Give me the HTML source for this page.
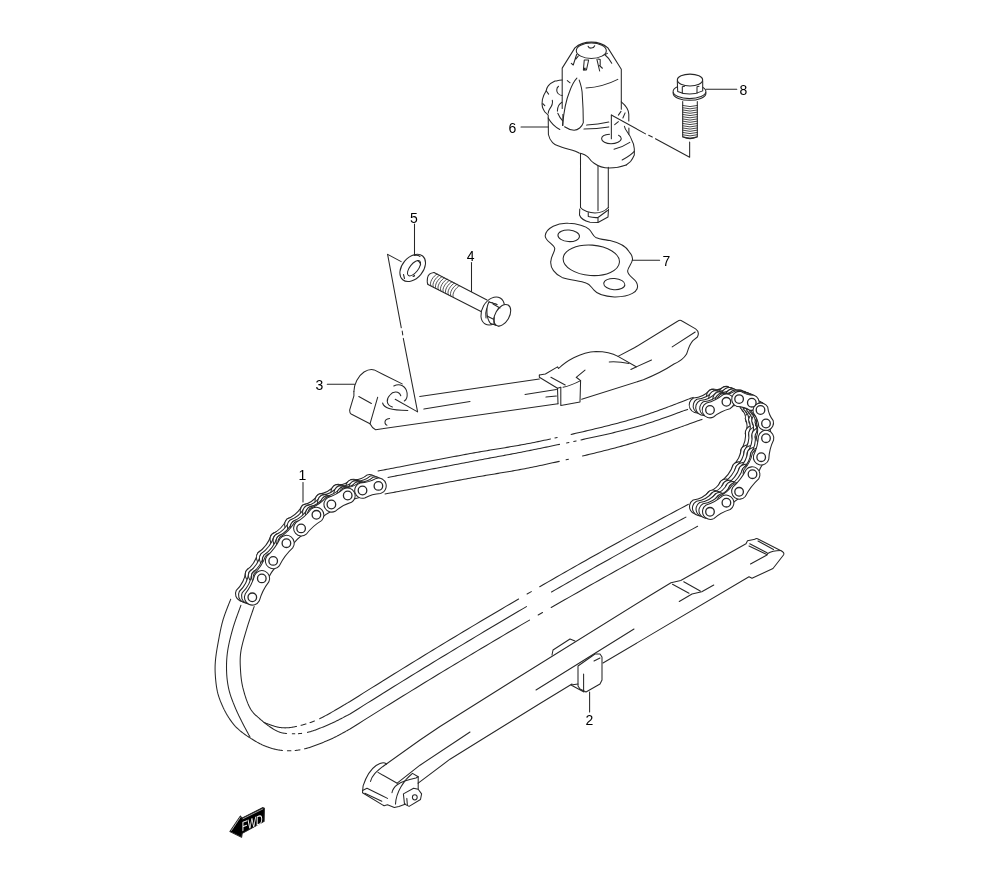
<!DOCTYPE html>
<html><head><meta charset="utf-8"><style>
html,body{margin:0;padding:0;background:#fff;}
svg{display:block;will-change:transform;}
text{font-family:"Liberation Sans",sans-serif;fill:#000;stroke:none;}
</style></head><body>
<svg width="1000" height="880" viewBox="0 0 1000 880">
<g fill="none" stroke="#262626" stroke-width="1.05" stroke-linecap="round" stroke-linejoin="round">
<path d="M562.2 108.4 L562.2 68.1 L574.9 47.9 C578 45 584 42.1 591.4 42.1 C598 42.1 604 44.5 607.9 47.9 L621.3 69.2 L621.3 109.2" />
<ellipse cx="591.3" cy="50.7" rx="15" ry="7.7" transform="rotate(0 591.3 50.7)" />
<path d="M588.1 46.25 C589 48.8 593.5 48.8 594.7 45.7" />
<path d="M576.6 54.5 L573.25 65 L571.3 63.3 M578.2 56.15 L576 59" />
<path d="M584.25 60 L588.65 60 L586.45 69.9 L583.4 69.9 Z" />
<path d="M583.2 67.8 L585.8 67.8 L585.5 70.2 L583 70.2 Z" fill="#262626" stroke="none"/>
<path d="M596.9 59.45 L599.65 71 M598 58.9 L600.2 59.5 L600.2 65.5 M599.5 65.5 L602.4 68.25" />
<path d="M605.15 55 Q609 58 611.75 63.3 M605.15 54.5 L607.4 53.4" />
<path d="M586 88 Q603 87 617.8 79.4" />
<path d="M562.9 114.5 L562.9 125.4" />
<path d="M562.5 125.4 C564 110 566 100 569.4 92 C571.5 86 574 81 576.9 78.1" />
<path d="M579.2 80.1 C581 85 582.3 92 582.3 95.5 C583 105 583.3 115 583.3 122.7 C582 127 578 130 574.1 130.2 C570 130 567 128.5 564.6 126.8" />
<path d="M567.3 80.6 L570.1 82.8" />
<path d="M562.2 80.1 C558 80.5 556 81 555 81.1 C552 82.5 549.5 84 548.2 85.9 C547 87.5 546.5 89 546.2 90.7 C544 94 543 97 542.4 99.5 C542 102 542 105 542.4 107 C543 109 544 110.5 544.8 111.8 C546 113 547 114 548.2 115.2 L548.4 134.5 C550 142 555 145 557.3 145.5 C565 149 575 150 579.1 153 C584 154 587 156 588.6 157.7 C591 161 592 162 594.1 163.2 C598 166 604 168 609.1 168 C615 168 621 167 626.2 165" />
<path d="M621.3 101.8 C624 104 628.8 109 628.8 114.3 L628.8 121 M628.9 128 L628.9 134.3" />
<path d="M624.4 126.2 C625 131 630 134 631.6 139.7 C633.5 143 634.3 146 634.3 148.7 L634.3 155 C633 158 632 159.5 630.7 161.3 Q628 163.5 626.2 165" />
<path d="M546.2 90.7 L548.6 94.1 M542.8 103.6 L544.8 105.7" />
<path d="M552.3 100.2 C553 103 552 106 549.6 109.1 C548.8 110.5 548.2 112 548.2 113.2" />
<path d="M558.5 86.2 C556 88 556.5 92 558 93.5 C559.5 95 561 95.5 562.2 95.5" />
<path d="M561.9 102.3 C559 104 557.4 106 557.4 111.1 M557.8 113.2 C559 116 561 119 562.5 120.7" />
<path d="M618.4 115.1 L621 111.4 M622.9 118 L625.1 112.9 M614.7 124.7 L618.4 121.7" />
<path d="M586.7 125.1 Q598 124.5 608.8 122.1" />
<path d="M584 129.1 Q597 129 608.8 126.9" />
<path d="M548.2 118 C551 123 555 127 559.8 129.5" />
<path d="M609.5 134.3 C604 134.6 601.6 136.5 601.6 138.8 C601.6 141.5 606 143.75 611 143.75 C616 143.75 621.3 141.5 621.25 138.5 Q621 136.2 618.55 135.2" />
<path d="M611.35 114.95 L611.35 138.8" />
<path d="M611.35 114.95 L645.55 133.85 M648.7 135.2 L652.3 137 M655.45 138.8 L689.65 157.25 L689.65 142" />
<path d="M614 149.2 Q623 147 629.8 142.4" />
<path d="M622.15 160 Q630 156 634.3 151.4" />
<path d="M580.5 153.6 L580.5 207.5 M598 165.9 L598 210.5 M608.3 167.3 L608.3 207.5" />
<path d="M580.5 207.5 C583 211 590 213 595 213 C600 213 605 211 608.3 207.5" />
<path d="M579.75 209 L579.5 215 C580.5 218 585 221 590 222.25 L598 222.5 L608 217 L608.5 209" />
<path d="M588.25 212.5 L588.25 216.5 C592 217.5 595 217.8 598 217.5 L607.5 210.5 M598 217.5 L598 222" />
<path d="M521 127 L548.4 127" />
<text x="508.5" y="132.5" font-size="14" >6</text>
<ellipse cx="689.5" cy="91.5" rx="16.4" ry="7.1" transform="rotate(0 689.5 91.5)" />
<path d="M673.1 92.5 L673.2 93.8 A16.4 7.1 0 0 0 705.9 93.8 L705.9 92.5" />
<path d="M677.3 80.9 L677.7 91.4 Q690 97 702.7 90.9 L702.7 80.9 Z" fill="#fff" stroke="none"/>
<ellipse cx="690" cy="80" rx="12.7" ry="5.9" transform="rotate(0 690 80)" />
<path d="M677.3 80.9 L677.7 91.4 Q690 97 702.7 90.9 L702.7 80.9" />
<path d="M682.3 86.8 L682.3 93.2 M697 86.8 L697 93.2 M682.3 86.8 L684.5 86.3 M697 86.8 L699 86.3" />
<path d="M682.7 101.4 L682.7 136.8 Q690 140.5 697.3 136.8 L697.3 101.4" />
<path d="M682.7 105.5 Q690 107.8 697.3 105.5" stroke-width="0.85"/>
<path d="M682.7 107.8 Q690 110.0 697.3 107.8" stroke-width="0.85"/>
<path d="M682.7 110.0 Q690 112.3 697.3 110.0" stroke-width="0.85"/>
<path d="M682.7 112.2 Q690 114.5 697.3 112.2" stroke-width="0.85"/>
<path d="M682.7 114.5 Q690 116.8 697.3 114.5" stroke-width="0.85"/>
<path d="M682.7 116.8 Q690 119.0 697.3 116.8" stroke-width="0.85"/>
<path d="M682.7 119.0 Q690 121.3 697.3 119.0" stroke-width="0.85"/>
<path d="M682.7 121.2 Q690 123.5 697.3 121.2" stroke-width="0.85"/>
<path d="M682.7 123.5 Q690 125.8 697.3 123.5" stroke-width="0.85"/>
<path d="M682.7 125.8 Q690 128.1 697.3 125.8" stroke-width="0.85"/>
<path d="M682.7 128.0 Q690 130.3 697.3 128.0" stroke-width="0.85"/>
<path d="M682.7 130.2 Q690 132.6 697.3 130.2" stroke-width="0.85"/>
<path d="M682.7 132.5 Q690 134.8 697.3 132.5" stroke-width="0.85"/>
<path d="M682.7 134.8 Q690 137.1 697.3 134.8" stroke-width="0.85"/>
<path d="M682.7 137.0 Q690 139.3 697.3 137.0" stroke-width="0.85"/>
<path d="M706.1 89.3 L736.8 89.3" />
<text x="739.5" y="95" font-size="14" >8</text>
<path d="M545.2 235.8 C546 228 558 222.5 568.4 223.3 C577 223.5 586 226 589.2 229.4 C592 232 593 236 595.6 237.4 C599 239 604 239.5 610 240.6 C618 242.5 626 246 629.2 251.8 C632 255 633 257 632.4 259.8 C632 264 628 267 627.6 271 C628 276 634 278 636.4 282.2 C639 287 637 291 632.4 293.4 C627 296.5 620 297 614.3 296.9 C605 296.5 597 294 594 290.2 C591 287 590 284 586 283 C580 281 570 280 562 277.4 C555 274 550 268 550.8 261.4 C551 256 554.8 252 554.8 248.6 C554 244 545 241 545.2 235.8 Z" />
<ellipse cx="591.3" cy="260.3" rx="28.2" ry="15.2" transform="rotate(4 591.3 260.3)" />
<ellipse cx="568.7" cy="235.8" rx="10.8" ry="5.8" transform="rotate(4 568.7 235.8)" />
<ellipse cx="614.3" cy="284.1" rx="10.6" ry="5.6" transform="rotate(4 614.3 284.1)" />
<path d="M632.4 260.3 L659.6 260.3" />
<text x="662.5" y="266.3" font-size="14" >7</text>
<text x="410" y="222.6" font-size="14" >5</text>
<path d="M414.5 224 L414.5 254.4" />
<ellipse cx="412.7" cy="267.9" rx="10.5" ry="15.5" transform="rotate(40 412.7 267.9)" />
<ellipse cx="414" cy="268.2" rx="4.2" ry="9.2" transform="rotate(38 414 268.2)" />
<path d="M417.5 260.5 C420 262 421 264.5 420.5 265" />
<path d="M413 276.5 Q415.5 276 414 275.2" />
<path d="M414 255.5 Q418 254.8 420 256.5" />
<path d="M403.5 274.5 L404.5 278.5" />
<path d="M387.6 254.4 L401.2 261.6" />
<path d="M387.6 254.4 L401.3 327.8 M402.2 331 L402.75 334.9 M403.3 338.4 L417.6 411.9 L395.2 399.3" />
<text x="466.8" y="260.8" font-size="14" >4</text>
<path d="M471.5 262.4 L471.5 291.5" />
<path d="M434 272.5 L487 300 M428 284.5 L481 311.5" />
<path d="M434 272.5 C430 273 428 275 427.5 278 C427 281 427 283 428 284.5" />
<path d="M437.0 274.1 C433.5 275.6 428.5 283.0 431.0 286.0" stroke-width="0.8"/>
<path d="M439.5 275.4 C436.0 276.9 431.0 284.3 433.5 287.3" stroke-width="0.8"/>
<path d="M442.0 276.7 C438.5 278.2 433.5 285.6 436.0 288.6" stroke-width="0.8"/>
<path d="M444.5 277.9 C441.0 279.4 436.0 286.8 438.5 289.8" stroke-width="0.8"/>
<path d="M447.0 279.2 C443.5 280.7 438.5 288.1 441.0 291.1" stroke-width="0.8"/>
<path d="M449.5 280.5 C446.0 282.0 441.0 289.4 443.5 292.4" stroke-width="0.8"/>
<path d="M452.0 281.8 C448.5 283.3 443.5 290.7 446.0 293.7" stroke-width="0.8"/>
<path d="M454.5 283.1 C451.0 284.6 446.0 291.9 448.5 294.9" stroke-width="0.8"/>
<path d="M457.0 284.4 C453.5 285.9 448.5 293.2 451.0 296.2" stroke-width="0.8"/>
<path d="M459.5 285.7 C456.0 287.2 451.0 294.5 453.5 297.5" stroke-width="0.8"/>
<ellipse cx="492.7" cy="311" rx="10.5" ry="15" transform="rotate(30 492.7 311)" fill="#fff"/>
<path d="M486 318 C485 312 487 306 492 302.5" />
<path d="M489 302 L497 304.5 M490.5 323.5 L499 326" fill="#fff"/>
<path d="M489 302 L497 304.5 L505 307 L510 318 L502 327 L499 326 L490.5 323.5 C486 318 486 307 489 302 Z" fill="#fff" stroke="none"/>
<path d="M489 302 L497 304.5 M490.5 323.5 L499 326" />
<path d="M489 302 C486 307 486 318 490.5 323.5" />
<ellipse cx="502.3" cy="315.2" rx="7" ry="11.7" transform="rotate(30 502.3 315.2)" fill="#fff"/>
<path d="M493 304 L500 308 M487 316 L494 319.5 M494 317.5 L494 324" />
<path d="M353.9 391.6 C354 384 358 376 364 372 C368 369.5 371 369 374.2 369.9 L402.2 383.9" />
<path d="M393.8 386 C400 383 406 386 407.1 393 C407.5 397 406 400 404.3 401" />
<path d="M400.8 395.8 C399 391 393 391 390 395 C386 399 386 405 392.4 407" />
<path d="M382.6 403 C384 408 390 410 407.8 410.5" />
<path d="M353.9 391.6 L353.9 395.8 L349.7 409.8 Q349.5 413 351.1 414 L370 423.8 Q372 428 375.6 429.7 L558 403.7" />
<path d="M358.8 396.5 L371.4 403.5 M377.7 397.2 L370 423.8" />
<path d="M389.6 418.5 Q384.5 419 385 423 Q385.5 425 387 425.2" />
<path d="M419.7 396.5 L539.35 379" />
<path d="M423.9 409.1 L470 401.6" />
<path d="M525 394.4 L556.4 389.4 M546 397.1 L556.4 396" />
<path d="M539.35 375.1 L545.4 374 L557.5 366.85 L558.6 368.5 C565 362 580 352 596 351.45 C605 351.5 612 353 618 356.4 L634.4 347.8 L677.6 321.25 Q680 319.5 682 321 L695.6 328.9 Q700 332 697.4 337 L692.9 340.6 C689 345 688 350 686.6 354.1 C683 360 679 362 674 364 C665 370 655 375 643.4 379.75 L581.7 399.3" />
<path d="M618 356.4 L636.2 366.7" />
<path d="M609.2 361.9 C615 361.5 622 362 629 363.5" />
<path d="M630.8 369.4 L651.5 360 M672.2 346.9 L695.2 332" />
<path d="M539.35 375.1 L539.35 377.3 L557.5 388.3 L560.8 387.2" />
<path d="M557.5 388.3 L558 403.7" />
<path d="M560.8 387.2 L560.8 405.4 L580 402 L580.6 380.6 Q578 378.5 576.2 377.3 L585 370.15" />
<path d="M563 387.2 C570 386 576 383 580.6 380.6" />
<path d="M550.9 377.3 L565.2 385" />
<path d="M327.3 384.2 L354.6 384.2" />
<text x="315.5" y="390" font-size="14" >3</text>
<path d="M386.4 764 L420 740 L440 726.5 L514 680 L650 595.5 L671 582.75 L680.75 580.5 L746 543.75 L747.5 540.75 L755 539.25 Q756 538.2 757.5 538.8 L780.5 550.5 Q785 552.5 783.5 555 L773 568.5 L752 578.25 L749 576.75 L603 663" />
<path d="M572 684 L540 703.5 L481 740 L450 759.2 L418.2 783.1" />
<path d="M397.2 783.2 L420 765.2 L458 740 L470 732" />
<path d="M536 690 L634 629" />
<path d="M672.5 584.25 L689 593.25 M683.75 581.75 L700.25 591 M679.25 601.5 L692 594 L701.75 591.75 L713.75 585" />
<path d="M749.75 543.75 L767 552.75 M749 546 L766.25 554.25 M767.75 553.5 Q772 550.5 781 550.5 M758 541 L773.5 549.5 M750.5 564 L767 555 L767.75 553.5" />
<path d="M578 666 L595 654 L600 654 L602 657 L602 680 L600 684 L586 692 L580 689 L578 686 Z" fill="#fff"/>
<path d="M583.6 674 L583.6 691 M594 661 L600 658 M571 685 L578 684 M571 685 L584 692" />
<path d="M552 655 L553 650 L570 639 L575 641" />
<path d="M589.6 692 L589.6 712" />
<text x="585.5" y="724.5" font-size="14" >2</text>
<path d="M386.4 764 Q383 761 376.1 765.5 C371 769 366 777 363.1 785.9 L362.5 792.7 L384.1 805.8 L387.5 804.7 L394.3 807.5 L398.9 806.4 L405.7 804.1" />
<path d="M403.4 793.9 L413.6 788.2 L418.2 789.3 L421.6 793.9 L420.5 799.5 L409.1 806.4 L404.5 804.1 Z" />
<ellipse cx="414.8" cy="797.3" rx="2.4" ry="2.6" transform="rotate(0 414.8 797.3)" />
<path d="M406.8 798.4 L407.4 805.2" />
<path d="M418.2 783.1 L418.2 789" />
<path d="M378 772.4 L397.2 783.2" />
<path d="M392 792.7 C393 787 397 782 415.9 778 L418.2 776.8" />
<path d="M395.5 804.1 C396 792 404 780 412.5 773.4 L418.2 776.8 L418.2 783" />
<path d="M370.5 781.4 C372 776 375 772 386.4 764" />
<path d="M362.5 790.5 L367 788.2 L387.5 798.4 M364.8 793.3 L381.8 801.3" />
<path d="M378.00 471.00 L379.21 470.77 L380.55 470.52 L382.01 470.24 L383.57 469.94 L385.25 469.62 L387.03 469.29 L388.90 468.93 L390.86 468.55 L392.92 468.16 L395.05 467.76 L397.25 467.34 L399.53 466.90 L401.87 466.46 L404.27 466.00 L406.73 465.53 L409.23 465.05 L411.78 464.57 L414.36 464.08 L416.98 463.58 L419.62 463.08 L422.29 462.57 L424.97 462.06 L427.67 461.55 L430.37 461.04 L433.07 460.52 L435.76 460.01 L438.45 459.51 L441.12 459.00 L443.77 458.50 L446.39 458.01 L448.98 457.52 L451.54 457.04 L454.05 456.57 L456.51 456.11 L458.92 455.65 L461.28 455.22 L463.57 454.79 L465.79 454.38 L467.93 453.98 L470.00 453.60 L472.01 453.23 L473.97 452.88 L475.90 452.53 L477.80 452.20 L479.67 451.87 L481.50 451.56 L483.31 451.25 L485.09 450.94 L486.84 450.65 L488.58 450.36 L490.29 450.08 L491.99 449.80 L493.67 449.52 L495.33 449.25 L496.98 448.98 L498.62 448.71 L500.26 448.45 L501.88 448.18 L503.51 447.92 L505.12 447.65 L506.74 447.38 L508.36 447.11 L509.99 446.84 L511.62 446.57 L513.25 446.29 L514.90 446.01 L516.55 445.72 L518.22 445.42 L519.91 445.12 L521.61 444.82 L523.33 444.50 L525.07 444.18 L526.84 443.84 L528.63 443.50 L530.44 443.15 L532.29 442.78 L534.17 442.41 L536.07 442.02 L538.02 441.62 L540.00 441.20 L542.02 440.77 L544.08 440.33 L546.18 439.89 L548.31 439.43 L550.48 438.96"/>
<path d="M554.90 438.00 L557.15 437.51"/>
<path d="M571.09 434.42 L573.46 433.88 L575.85 433.34 L578.24 432.79 L580.63 432.24 L583.03 431.68 L585.42 431.13 L587.82 430.56 L590.21 430.00 L592.59 429.43 L594.97 428.86 L597.33 428.29 L599.69 427.72 L602.02 427.15 L604.34 426.58 L606.64 426.00 L608.92 425.43 L611.17 424.86 L613.40 424.29 L615.59 423.72 L617.76 423.15 L619.90 422.58 L622.00 422.02 L624.06 421.46 L626.08 420.90 L628.06 420.35 L630.00 419.80 L631.92 419.25 L633.84 418.68 L635.76 418.09 L637.69 417.50 L639.61 416.89 L641.54 416.28 L643.45 415.66 L645.37 415.03 L647.27 414.39 L649.17 413.75 L651.05 413.10 L652.92 412.45 L654.78 411.80 L656.62 411.14 L658.44 410.49 L660.24 409.84 L662.02 409.19 L663.78 408.54 L665.52 407.90 L667.23 407.26 L668.90 406.63 L670.55 406.01 L672.17 405.40 L673.76 404.80 L675.31 404.20 L676.82 403.62 L678.29 403.06 L679.73 402.51 L681.12 401.97 L682.47 401.45 L683.78 400.95 L685.03 400.46 L686.24 400.00 L687.40 399.56 L688.51 399.13 L689.56 398.74 L690.56 398.36 L691.50 398.02 L692.38 397.69 L693.20 397.40"/>
<path d="M388.00 477.40 L389.08 477.19 L390.26 476.97 L391.55 476.72 L392.93 476.46 L394.41 476.18 L395.97 475.88 L397.62 475.57 L399.34 475.24 L401.14 474.90 L403.02 474.55 L404.95 474.18 L406.95 473.80 L409.01 473.41 L411.11 473.01 L413.27 472.60 L415.47 472.18 L417.71 471.75 L419.99 471.32 L422.29 470.88 L424.62 470.44 L426.98 469.99 L429.35 469.54 L431.73 469.09 L434.13 468.63 L436.53 468.17 L438.92 467.72 L441.32 467.26 L443.70 466.81 L446.07 466.36 L448.42 465.91 L450.75 465.47 L453.06 465.03 L455.33 464.60 L457.57 464.17 L459.76 463.75 L461.92 463.34 L464.02 462.94 L466.07 462.55 L468.07 462.17 L470.00 461.80 L471.89 461.44 L473.75 461.09 L475.58 460.74 L477.40 460.40 L479.19 460.06 L480.96 459.73 L482.71 459.40 L484.45 459.08 L486.17 458.76 L487.88 458.45 L489.57 458.13 L491.25 457.82 L492.93 457.51 L494.59 457.20 L496.25 456.90 L497.90 456.59 L499.55 456.28 L501.20 455.98 L502.85 455.67 L504.50 455.36 L506.15 455.05 L507.81 454.74 L509.47 454.43 L511.14 454.12 L512.81 453.80 L514.50 453.48 L516.20 453.15 L517.91 452.82 L519.63 452.49 L521.38 452.15 L523.13 451.80 L524.91 451.45 L526.71 451.10 L528.53 450.74 L530.38 450.37 L532.24 449.99 L534.14 449.60 L536.06 449.21 L538.02 448.81 L540.00 448.40 L542.02 447.98 L544.09 447.55 L546.19 447.12 L548.34 446.68 L550.51 446.23 L552.73 445.77 L554.97 445.31 L557.24 444.84 L559.53 444.37"/>
<path d="M566.55 442.91 L568.92 442.42"/>
<path d="M573.71 441.42 L576.12 440.91"/>
<path d="M580.94 439.89 L583.36 439.38 L585.77 438.86 L588.19 438.34 L590.59 437.83 L592.99 437.31 L595.37 436.78 L597.74 436.26 L600.10 435.74 L602.44 435.22 L604.75 434.70 L607.04 434.18 L609.31 433.66 L611.55 433.14 L613.75 432.62 L615.93 432.11 L618.06 431.60 L620.16 431.09 L622.22 430.58 L624.24 430.08 L626.21 429.58 L628.13 429.09 L630.00 428.60 L631.84 428.11 L633.68 427.60 L635.51 427.09 L637.33 426.57 L639.14 426.04 L640.95 425.50 L642.74 424.96 L644.52 424.41 L646.28 423.86 L648.03 423.31 L649.76 422.75 L651.48 422.19 L653.17 421.63 L654.85 421.07 L656.50 420.51 L658.14 419.96 L659.75 419.40 L661.33 418.85 L662.89 418.30 L664.43 417.76 L665.93 417.23 L667.40 416.70 L668.85 416.18 L670.26 415.67 L671.64 415.17 L672.99 414.68 L674.30 414.20 L675.57 413.73 L676.81 413.28 L678.01 412.84 L679.17 412.41 L680.28 412.00 L681.36 411.61 L682.39 411.23 L683.38 410.88 L684.32 410.54 L685.21 410.22 L686.06 409.93 L686.85 409.65 L687.60 409.40"/>
<path d="M385.00 494.00 L386.12 493.79 L387.35 493.56 L388.69 493.31 L390.13 493.05 L391.66 492.76 L393.29 492.46 L395.00 492.14 L396.80 491.80 L398.68 491.45 L400.62 491.09 L402.64 490.71 L404.72 490.32 L406.87 489.92 L409.06 489.51 L411.31 489.09 L413.60 488.66 L415.93 488.23 L418.30 487.79 L420.70 487.34 L423.12 486.89 L425.57 486.43 L428.04 485.97 L430.51 485.51 L433.00 485.05 L435.49 484.58 L437.98 484.12 L440.46 483.66 L442.92 483.20 L445.38 482.75 L447.81 482.30 L450.22 481.85 L452.60 481.41 L454.94 480.97 L457.25 480.55 L459.51 480.13 L461.73 479.72 L463.89 479.32 L465.99 478.94 L468.03 478.56 L470.00 478.20 L471.92 477.85 L473.81 477.51 L475.68 477.18 L477.52 476.85 L479.33 476.53 L481.12 476.22 L482.89 475.92 L484.64 475.62 L486.37 475.33 L488.09 475.04 L489.79 474.76 L491.47 474.47 L493.15 474.20 L494.81 473.92 L496.47 473.64 L498.12 473.37 L499.77 473.10 L501.41 472.82 L503.05 472.55 L504.69 472.27 L506.33 472.00 L507.97 471.72 L509.62 471.44 L511.28 471.15 L512.94 470.86 L514.62 470.56 L516.30 470.26 L518.00 469.96 L519.72 469.64 L521.45 469.32 L523.19 468.99 L524.96 468.66 L526.75 468.31 L528.56 467.96 L530.40 467.59 L532.26 467.22 L534.15 466.83 L536.07 466.43 L538.02 466.02 L540.00 465.60 L542.02 465.17 L544.07 464.72 L546.16 464.27 L548.27 463.80 L550.42 463.33 L552.59 462.85 L554.79 462.37 L557.01 461.87 L559.25 461.37"/>
<path d="M566.10 459.82 L568.41 459.29"/>
<path d="M582.51 456.00 L584.88 455.44 L587.24 454.87 L589.61 454.30 L591.98 453.73 L594.34 453.15 L596.69 452.57 L599.03 451.99 L601.37 451.41 L603.69 450.82 L606.00 450.24 L608.30 449.65 L610.57 449.06 L612.83 448.47 L615.07 447.89 L617.28 447.30 L619.47 446.71 L621.64 446.13 L623.78 445.54 L625.88 444.96 L627.96 444.38 L630.00 443.80 L632.04 443.21 L634.09 442.61 L636.16 441.99 L638.25 441.36 L640.35 440.71 L642.46 440.05 L644.58 439.38 L646.70 438.70 L648.83 438.01 L650.95 437.31 L653.07 436.61 L655.19 435.90 L657.30 435.19 L659.40 434.48 L661.48 433.77 L663.55 433.06 L665.60 432.35 L667.63 431.64 L669.64 430.94 L671.62 430.24 L673.58 429.55 L675.50 428.86 L677.39 428.19 L679.25 427.53 L681.06 426.88 L682.84 426.24 L684.57 425.62 L686.26 425.01 L687.90 424.42 L689.48 423.85 L691.02 423.29 L692.50 422.76 L693.92 422.25 L695.27 421.76 L696.57 421.30 L697.80 420.86 L698.96 420.45 L700.05 420.07 L701.06 419.72 L702.00 419.40"/>
<path d="M264.00 722.50 L264.21 722.57 L264.44 722.64 L264.69 722.73 L264.95 722.82 L265.23 722.93 L265.53 723.04 L265.85 723.15 L266.18 723.28 L266.52 723.40 L266.88 723.54 L267.24 723.68 L267.62 723.82 L268.02 723.97 L268.42 724.12 L268.83 724.27 L269.25 724.43 L269.68 724.59 L270.11 724.74 L270.55 724.90 L271.00 725.06 L271.45 725.22 L271.91 725.38 L272.37 725.54 L272.83 725.69 L273.30 725.84 L273.76 725.99 L274.23 726.14 L274.70 726.28 L275.16 726.42 L275.62 726.55 L276.09 726.68 L276.54 726.80 L277.00 726.92 L277.45 727.03 L277.89 727.13 L278.33 727.22 L278.76 727.30 L279.18 727.38 L279.60 727.44 L280.00 727.50 L280.40 727.55 L280.79 727.59 L281.18 727.63 L281.57 727.67 L281.95 727.71 L282.33 727.74 L282.71 727.76 L283.09 727.79 L283.46 727.81 L283.84 727.82 L284.21 727.84 L284.58 727.85 L284.95 727.85 L285.32 727.85 L285.69 727.85 L286.06 727.84 L286.44 727.83 L286.81 727.82 L287.19 727.80 L287.56 727.78 L287.94 727.76 L288.32 727.73 L288.71 727.69 L289.10 727.66 L289.49 727.61 L289.88 727.57 L290.28 727.52 L290.69 727.47 L291.09 727.41 L291.51 727.35 L291.93 727.28 L292.35 727.21 L292.78 727.14 L293.22 727.06 L293.67 726.98 L294.12 726.89 L294.58 726.80 L295.04 726.70 L295.52 726.60 L296.00 726.50 L296.49 726.39"/>
<path d="M301.07 725.32 L301.60 725.18 L302.13 725.04 L302.67 724.90 L303.21 724.75 L303.76 724.60 L304.31 724.45 L304.87 724.29 L305.43 724.12 L305.99 723.96"/>
<path d="M310.08 722.62 L310.68 722.41 L311.29 722.19 L311.90 721.96 L312.52 721.73 L313.15 721.49 L313.78 721.24 L314.41 720.99"/>
<path d="M319.69 718.68 L320.41 718.33 L321.15 717.96 L321.92 717.58 L322.70 717.17 L323.51 716.75 L324.34 716.31 L325.18 715.86 L326.04 715.39 L326.91 714.92 L327.80 714.43 L328.69 713.93 L329.59 713.43 L330.49 712.92 L331.40 712.40 L332.31 711.88 L333.22 711.36 L334.13 710.83 L335.04 710.31 L335.94 709.78 L336.83 709.26 L337.71 708.74 L338.59 708.23 L339.45 707.72 L340.29 707.22 L341.12 706.73 L341.94 706.25 L342.73 705.78 L343.50 705.32 L344.24 704.88 L344.96 704.45 L345.66 704.04 L346.32 703.65 L346.95 703.27 L347.55 702.92 L348.12 702.59 L348.65 702.28 L349.14 701.99 L349.59 701.73 L350.00 701.50 L354.41 698.72 L358.82 695.95 L363.22 693.18 L367.61 690.42 L372.01 687.67 L376.39 684.93 L380.78 682.20 L385.15 679.48 L389.53 676.76 L393.90 674.05 L398.26 671.35 L402.62 668.66 L406.98 665.97 L411.33 663.29 L415.67 660.62 L420.02 657.96 L424.35 655.31 L428.69 652.67 L433.01 650.03 L437.34 647.40 L441.66 644.78 L445.97 642.17 L450.28 639.56 L454.59 636.96 L458.89 634.38 L463.18 631.79 L467.47 629.22 L471.76 626.66 L476.04 624.10 L480.32 621.55 L484.60 619.01 L488.86 616.48 L493.13 613.95 L497.39 611.43 L501.64 608.93 L505.89 606.42 L510.14 603.93 L514.38 601.45 L518.62 598.97"/>
<path d="M527.08 594.04 L531.30 591.59"/>
<path d="M539.73 586.70 L543.94 584.28 L548.15 581.85 L552.35 579.44 L556.54 577.04 L560.74 574.64 L564.92 572.25 L569.10 569.87 L573.28 567.50 L577.45 565.13 L581.62 562.77 L585.79 560.42 L589.95 558.08 L594.10 555.75 L598.25 553.43 L602.40 551.11 L606.54 548.80 L610.67 546.50 L614.81 544.21 L618.93 541.92 L623.06 539.64 L627.17 537.38 L631.29 535.11 L635.40 532.86 L639.50 530.62 L643.60 528.38 L647.70 526.15 L651.79 523.93 L655.87 521.72 L659.96 519.51 L664.03 517.31 L668.11 515.12 L672.17 512.94 L676.24 510.77 L680.30 508.61 L684.35 506.45 L688.40 504.30"/>
<path d="M254.20 606.40 L254.11 606.68 L254.00 606.99 L253.89 607.32 L253.77 607.68 L253.64 608.05 L253.50 608.45 L253.35 608.87 L253.20 609.31 L253.04 609.77 L252.88 610.24 L252.71 610.73 L252.53 611.24 L252.35 611.76 L252.17 612.30 L251.98 612.84 L251.79 613.40 L251.59 613.97 L251.39 614.56 L251.19 615.15 L250.98 615.74 L250.77 616.35 L250.57 616.96 L250.36 617.58 L250.15 618.20 L249.94 618.83 L249.73 619.45 L249.52 620.08 L249.31 620.71 L249.10 621.34 L248.89 621.97 L248.69 622.60 L248.48 623.23 L248.29 623.85 L248.09 624.46 L247.90 625.07 L247.71 625.67 L247.52 626.27 L247.34 626.86 L247.17 627.43 L247.00 628.00 L246.83 628.56 L246.66 629.13 L246.49 629.70 L246.32 630.28 L246.15 630.86 L245.97 631.45 L245.79 632.03 L245.62 632.62 L245.44 633.22 L245.26 633.81 L245.09 634.41 L244.91 635.01 L244.73 635.61 L244.56 636.21 L244.38 636.82 L244.21 637.42 L244.03 638.02 L243.86 638.63 L243.69 639.23 L243.53 639.83 L243.36 640.43 L243.20 641.03 L243.03 641.63 L242.88 642.23 L242.72 642.82 L242.57 643.42 L242.42 644.01 L242.28 644.59 L242.14 645.18 L242.00 645.76 L241.87 646.33 L241.74 646.91 L241.61 647.47 L241.50 648.04 L241.38 648.60 L241.27 649.15 L241.17 649.70 L241.08 650.24 L240.98 650.77 L240.90 651.30 L240.82 651.82 L240.75 652.34 L240.68 652.85 L240.62 653.36 L240.56 653.86 L240.50 654.36 L240.45 654.85 L240.41 655.34 L240.37 655.83 L240.33 656.31 L240.30 656.79 L240.27 657.26 L240.24 657.74 L240.22 658.21 L240.21 658.67 L240.19 659.14 L240.18 659.60 L240.17 660.06 L240.17 660.51 L240.16 660.97 L240.16 661.42 L240.17 661.88 L240.17 662.33 L240.18 662.78 L240.19 663.23 L240.20 663.68 L240.21 664.12 L240.23 664.57 L240.24 665.02 L240.26 665.47 L240.28 665.92 L240.30 666.37 L240.33 666.82 L240.35 667.27 L240.37 667.72 L240.40 668.17 L240.42 668.63 L240.45 669.08 L240.47 669.54 L240.50 670.00 L240.53 670.46 L240.55 670.92 L240.58 671.38 L240.61 671.83 L240.64 672.29 L240.67 672.74 L240.71 673.19 L240.74 673.65 L240.78 674.10 L240.82 674.55 L240.85 675.00 L240.90 675.45 L240.94 675.89 L240.98 676.34 L241.03 676.79 L241.08 677.24 L241.13 677.69 L241.18 678.13 L241.23 678.58 L241.29 679.03 L241.35 679.48 L241.41 679.93 L241.47 680.38 L241.54 680.83 L241.61 681.28 L241.68 681.73 L241.75 682.18 L241.83 682.64 L241.91 683.09 L241.99 683.55 L242.08 684.01 L242.17 684.47 L242.26 684.93 L242.35 685.39 L242.45 685.85 L242.55 686.32 L242.66 686.78 L242.77 687.25 L242.88 687.73 L243.00 688.20 L243.12 688.68 L243.24 689.16 L243.37 689.66 L243.50 690.15 L243.64 690.66 L243.78 691.17 L243.92 691.68 L244.06 692.20 L244.21 692.72 L244.36 693.24 L244.52 693.77 L244.67 694.30 L244.83 694.83 L245.00 695.36 L245.16 695.89 L245.33 696.43 L245.50 696.96 L245.68 697.49 L245.85 698.02 L246.03 698.55 L246.21 699.08 L246.40 699.60 L246.58 700.12 L246.77 700.64 L246.96 701.15 L247.15 701.66 L247.34 702.16 L247.54 702.66 L247.73 703.15 L247.93 703.63 L248.13 704.11 L248.34 704.58 L248.54 705.04 L248.74 705.49 L248.95 705.94 L249.16 706.37 L249.37 706.79 L249.58 707.21 L249.79 707.61 L250.00 708.00 L250.21 708.38 L250.43 708.75 L250.64 709.11 L250.86 709.46 L251.07 709.80 L251.29 710.13 L251.51 710.45 L251.73 710.76 L251.95 711.07 L252.17 711.37 L252.40 711.66 L252.62 711.95 L252.85 712.23 L253.08 712.50 L253.31 712.77 L253.54 713.03 L253.78 713.29 L254.02 713.55 L254.26 713.80 L254.50 714.05 L254.75 714.30 L254.99 714.54 L255.24 714.78 L255.50 715.02 L255.75 715.26 L256.01 715.50 L256.27 715.74 L256.54 715.98 L256.81 716.22 L257.08 716.46 L257.35 716.70 L257.63 716.94 L257.91 717.19 L258.20 717.43 L258.49 717.69 L258.78 717.94 L259.08 718.20 L259.38 718.46 L259.69 718.73 L260.00 719.00 L260.32 719.28 L260.64 719.56 L260.97 719.84 L261.31 720.13 L261.66 720.43 L262.01 720.72 L262.37 721.02 L262.73 721.32 L263.10 721.62 L263.47 721.93 L263.85 722.23 L264.23 722.54 L264.61 722.84 L265.00 723.15 L265.39 723.45 L265.78 723.76 L266.18 724.06 L266.58 724.37 L266.98 724.67 L267.38 724.97 L267.78 725.27 L268.18 725.56 L268.58 725.85 L268.98 726.14 L269.38 726.42 L269.77 726.70 L270.17 726.98 L270.56 727.25 L270.95 727.52 L271.34 727.78 L271.73 728.03 L272.11 728.28 L272.49 728.52 L272.86 728.76 L273.23 728.98 L273.60 729.20 L273.96 729.42 L274.31 729.62 L274.66 729.81 L275.00 730.00 L275.33 730.18 L275.66 730.35 L275.98 730.51 L276.29 730.67 L276.59 730.83 L276.89 730.97 L277.18 731.12 L277.46 731.25 L277.75 731.38 L278.02 731.51 L278.30 731.63 L278.57 731.74 L278.84 731.85 L279.10 731.96 L279.37 732.06 L279.63 732.16 L279.90 732.25 L280.16 732.34 L280.42 732.42 L280.69 732.50 L280.95 732.58 L281.22 732.65 L281.49 732.72 L281.77 732.78 L282.05 732.85 L282.33 732.91 L282.61 732.96 L282.91 733.02 L283.20 733.07 L283.51 733.12 L283.82 733.16 L284.14 733.21 L284.46 733.25 L284.80 733.29 L285.14 733.33 L285.49 733.37 L285.85 733.40 L286.22 733.44 L286.61 733.47"/>
<path d="M292.32 733.77 L292.80 733.78 L293.29 733.78 L293.78 733.78 L294.28 733.78 L294.78 733.78"/>
<path d="M298.40 733.66 L298.93 733.62 L299.46 733.58 L299.99 733.54 L300.53 733.49 L301.06 733.44 L301.60 733.38"/>
<path d="M307.54 732.38 L308.09 732.25 L308.64 732.11 L309.19 731.96 L309.75 731.81 L310.32 731.65 L310.88 731.48 L311.46 731.30 L312.03 731.12 L312.61 730.94 L313.19 730.75 L313.77 730.55 L314.36 730.35 L314.95 730.14 L315.54 729.93 L316.13 729.71 L316.72 729.49 L317.31 729.27 L317.91 729.04 L318.50 728.81 L319.09 728.58 L319.69 728.34 L320.28 728.11 L320.87 727.87 L321.46 727.63 L322.05 727.38 L322.64 727.14 L323.23 726.90 L323.81 726.65 L324.39 726.41 L324.97 726.16 L325.54 725.92 L326.12 725.67 L326.68 725.43 L327.25 725.19 L327.81 724.94 L328.36 724.71 L328.91 724.47 L329.46 724.23 L330.00 724.00 L330.54 723.76 L331.09 723.52 L331.65 723.27 L332.21 723.02 L332.78 722.75 L333.35 722.49 L333.93 722.21 L334.51 721.94 L335.10 721.66 L335.68 721.37 L336.27 721.08 L336.85 720.80 L337.44 720.50 L338.02 720.21 L338.60 719.92 L339.18 719.63 L339.75 719.34 L340.32 719.05 L340.88 718.76 L341.44 718.47 L341.99 718.18 L342.53 717.90 L343.06 717.63 L343.58 717.35 L344.10 717.08 L344.60 716.82 L345.09 716.56 L345.56 716.31 L346.03 716.07 L346.48 715.83 L346.91 715.60 L347.33 715.38 L347.73 715.17 L348.11 714.97 L348.48 714.78 L348.82 714.60 L349.15 714.43 L349.45 714.28 L349.74 714.13 L350.00 714.00 L354.41 711.22 L358.81 708.45 L363.21 705.68 L367.61 702.92 L372.00 700.18 L376.38 697.44 L380.76 694.70 L385.13 691.98 L389.50 689.26 L393.86 686.55 L398.21 683.85 L402.57 681.16 L406.91 678.48 L411.25 675.80 L415.59 673.14 L419.92 670.48 L424.24 667.82 L428.56 665.18 L432.87 662.55 L437.18 659.92 L441.48 657.30 L445.78 654.69 L450.07 652.09 L454.36 649.49 L458.64 646.90 L462.92 644.33 L467.19 641.76 L471.46 639.19 L475.72 636.64 L479.97 634.09 L484.22 631.55 L488.46 629.02 L492.70 626.50 L496.94 623.99 L501.16 621.48 L505.39 618.98 L509.60 616.50 L513.82 614.01 L518.02 611.54 L522.23 609.08 L526.42 606.62"/>
<path d="M551.49 592.04 L555.64 589.64 L559.80 587.25 L563.95 584.87 L568.09 582.49 L572.23 580.12 L576.36 577.76 L580.48 575.41 L584.61 573.07 L588.72 570.73 L592.83 568.40 L596.94 566.08 L601.04 563.77 L605.13 561.47 L609.22 559.17 L613.30 556.89 L617.38 554.61 L621.46 552.34 L625.52 550.07 L629.59 547.82 L633.64 545.57 L637.70 543.33 L641.74 541.10 L645.78 538.88 L649.82 536.67 L653.85 534.46 L657.87 532.26 L661.89 530.07 L665.91 527.89 L669.92 525.71 L673.92 523.55 L677.92 521.39 L681.91 519.24 L685.90 517.10"/>
<path d="M230.70 599.20 L230.60 599.47 L230.49 599.77 L230.36 600.09 L230.23 600.44 L230.08 600.80 L229.93 601.19 L229.77 601.60 L229.60 602.02 L229.43 602.47 L229.24 602.93 L229.05 603.41 L228.86 603.90 L228.66 604.41 L228.45 604.93 L228.24 605.46 L228.03 606.01 L227.81 606.56 L227.59 607.13 L227.36 607.70 L227.14 608.28 L226.91 608.87 L226.68 609.46 L226.45 610.06 L226.23 610.66 L226.00 611.26 L225.77 611.87 L225.55 612.48 L225.32 613.08 L225.10 613.69 L224.89 614.29 L224.67 614.89 L224.46 615.49 L224.26 616.08 L224.06 616.66 L223.87 617.24 L223.68 617.81 L223.50 618.38 L223.32 618.93 L223.16 619.47 L223.00 620.00 L222.85 620.52 L222.70 621.05 L222.55 621.58 L222.41 622.11 L222.27 622.64 L222.13 623.17 L221.99 623.70 L221.85 624.24 L221.72 624.77 L221.59 625.31 L221.46 625.84 L221.34 626.38 L221.21 626.91 L221.09 627.45 L220.97 627.99 L220.86 628.52 L220.74 629.06 L220.62 629.60 L220.51 630.13 L220.40 630.67 L220.29 631.20 L220.18 631.74 L220.07 632.27 L219.97 632.80 L219.86 633.34 L219.76 633.87 L219.66 634.39 L219.56 634.92 L219.46 635.45 L219.36 635.97 L219.26 636.50 L219.16 637.02 L219.06 637.53 L218.97 638.05 L218.87 638.57 L218.78 639.08 L218.68 639.59 L218.59 640.09 L218.49 640.60 L218.40 641.10 L218.31 641.60 L218.21 642.10 L218.12 642.60 L218.03 643.10 L217.94 643.59 L217.85 644.09 L217.76 644.59 L217.67 645.08 L217.58 645.58 L217.49 646.07 L217.41 646.56 L217.32 647.05 L217.24 647.54 L217.15 648.03 L217.07 648.52 L216.99 649.01 L216.91 649.49 L216.83 649.97 L216.75 650.45 L216.68 650.93 L216.60 651.41 L216.53 651.88 L216.45 652.36 L216.38 652.83 L216.32 653.29 L216.25 653.76 L216.18 654.22 L216.12 654.69 L216.06 655.14 L216.00 655.60 L215.94 656.05 L215.88 656.50 L215.83 656.95 L215.77 657.40 L215.72 657.84 L215.67 658.28 L215.63 658.71 L215.58 659.15 L215.54 659.57 L215.50 660.00 L215.46 660.42 L215.43 660.84 L215.39 661.24 L215.36 661.65 L215.33 662.05 L215.30 662.44 L215.27 662.83 L215.25 663.22 L215.23 663.60 L215.20 663.98 L215.18 664.35 L215.17 664.72 L215.15 665.09 L215.13 665.46 L215.12 665.82 L215.11 666.18 L215.10 666.55 L215.09 666.90 L215.09 667.26 L215.08 667.62 L215.08 667.98 L215.08 668.33 L215.08 668.69 L215.08 669.04 L215.08 669.40 L215.09 669.76 L215.09 670.12 L215.10 670.48 L215.11 670.84 L215.12 671.20 L215.13 671.57 L215.14 671.93 L215.16 672.31 L215.17 672.68 L215.19 673.06 L215.21 673.44 L215.23 673.82 L215.25 674.21 L215.28 674.60 L215.30 675.00 L215.33 675.40 L215.35 675.81 L215.38 676.22 L215.41 676.63 L215.44 677.05 L215.47 677.47 L215.51 677.89 L215.54 678.32 L215.58 678.75 L215.62 679.18 L215.65 679.61 L215.70 680.05 L215.74 680.48 L215.78 680.92 L215.83 681.36 L215.87 681.80 L215.92 682.24 L215.97 682.68 L216.02 683.12 L216.08 683.56 L216.13 684.00 L216.19 684.44 L216.24 684.88 L216.30 685.32 L216.36 685.76 L216.43 686.19 L216.49 686.63 L216.56 687.06 L216.63 687.49 L216.70 687.91 L216.77 688.34 L216.84 688.76 L216.92 689.18 L217.00 689.59 L217.07 690.00 L217.16 690.41 L217.24 690.82 L217.32 691.22 L217.41 691.61 L217.50 692.00 L217.59 692.39 L217.69 692.77 L217.78 693.15 L217.88 693.53 L217.98 693.91 L218.08 694.28 L218.19 694.65 L218.30 695.02 L218.41 695.39 L218.52 695.76 L218.63 696.12 L218.75 696.48 L218.86 696.84 L218.98 697.20 L219.10 697.56 L219.23 697.91 L219.35 698.26 L219.48 698.62 L219.60 698.96 L219.73 699.31 L219.86 699.66 L219.99 700.00 L220.12 700.35 L220.26 700.69 L220.39 701.03 L220.53 701.37 L220.66 701.71 L220.80 702.04 L220.94 702.38 L221.08 702.71 L221.22 703.04 L221.36 703.38 L221.50 703.71 L221.64 704.04 L221.78 704.37 L221.93 704.69 L222.07 705.02 L222.21 705.35 L222.36 705.67 L222.50 706.00 L222.64 706.32 L222.79 706.65 L222.94 706.97 L223.08 707.29 L223.23 707.61 L223.38 707.93 L223.53 708.24 L223.68 708.56 L223.83 708.87 L223.98 709.19 L224.14 709.50 L224.29 709.81 L224.45 710.12 L224.60 710.43 L224.76 710.73 L224.92 711.04 L225.08 711.34 L225.24 711.65 L225.40 711.95 L225.56 712.25 L225.73 712.55 L225.89 712.85 L226.05 713.14 L226.22 713.44 L226.39 713.73 L226.55 714.03 L226.72 714.32 L226.89 714.61 L227.06 714.90 L227.23 715.19 L227.41 715.47 L227.58 715.76 L227.75 716.04 L227.93 716.33 L228.11 716.61 L228.28 716.89 L228.46 717.17 L228.64 717.45 L228.82 717.72 L229.00 718.00 L229.18 718.27 L229.36 718.55 L229.54 718.82 L229.72 719.08 L229.90 719.35 L230.08 719.62 L230.26 719.88 L230.44 720.14 L230.62 720.40 L230.80 720.66 L230.98 720.92 L231.16 721.17 L231.35 721.43 L231.53 721.68 L231.71 721.93 L231.90 722.18 L232.09 722.43 L232.28 722.68 L232.46 722.93 L232.66 723.17 L232.85 723.42 L233.04 723.67 L233.24 723.91 L233.44 724.15 L233.64 724.40 L233.84 724.64 L234.05 724.88 L234.26 725.12 L234.47 725.36 L234.68 725.60 L234.90 725.84 L235.12 726.08 L235.34 726.32 L235.57 726.56 L235.80 726.80 L236.03 727.04 L236.27 727.28 L236.51 727.52 L236.75 727.76 L237.00 728.00 L237.25 728.24 L237.50 728.48 L237.76 728.72 L238.02 728.95 L238.28 729.19 L238.54 729.43 L238.81 729.66 L239.08 729.90 L239.35 730.13 L239.62 730.37 L239.90 730.60 L240.18 730.83 L240.46 731.06 L240.75 731.30 L241.03 731.53 L241.32 731.76 L241.61 731.99 L241.91 732.22 L242.20 732.45 L242.50 732.68 L242.80 732.90 L243.10 733.13 L243.41 733.36 L243.72 733.59 L244.03 733.81 L244.34 734.04 L244.66 734.27 L244.98 734.49 L245.30 734.72 L245.62 734.95 L245.95 735.17 L246.28 735.40 L246.61 735.62 L246.94 735.85 L247.28 736.07 L247.62 736.30 L247.96 736.52 L248.31 736.75 L248.65 736.97 L249.00 737.20 L249.35 737.43 L249.71 737.65 L250.07 737.88 L250.43 738.12 L250.79 738.35 L251.16 738.58 L251.54 738.82 L251.91 739.05 L252.29 739.29 L252.67 739.53 L253.06 739.77 L253.44 740.00 L253.83 740.24 L254.22 740.48 L254.62 740.72 L255.02 740.96 L255.42 741.19 L255.82 741.43 L256.22 741.66 L256.62 741.89 L257.03 742.13 L257.44 742.35 L257.85 742.58 L258.26 742.81 L258.68 743.03 L259.09 743.25 L259.51 743.47 L259.93 743.69 L260.35 743.90 L260.77 744.11 L261.19 744.32 L261.61 744.52 L262.03 744.72 L262.45 744.92 L262.88 745.11 L263.30 745.30 L263.73 745.48 L264.15 745.66 L264.58 745.83 L265.00 746.00 L265.43 746.17 L265.85 746.33 L266.28 746.49 L266.71 746.65 L267.13 746.81 L267.56 746.97 L267.99 747.12 L268.42 747.27 L268.86 747.42 L269.29 747.57 L269.72 747.71 L270.16 747.86 L270.59 747.99 L271.03 748.13 L271.47 748.27 L271.91 748.40 L272.35 748.53 L272.80 748.65 L273.24 748.77 L273.69 748.89 L274.14 749.01 L274.58 749.12 L275.04 749.23 L275.49 749.34 L275.94 749.44 L276.40 749.54 L276.86 749.64 L277.32 749.73 L277.78 749.81 L278.24 749.90 L278.71 749.98 L279.18 750.05 L279.65 750.12 L280.12 750.19 L280.59 750.25 L281.07 750.31 L281.55 750.37 L282.03 750.42 L282.51 750.46"/>
<path d="M287.42 750.72 L287.92 750.73 L288.42 750.74 L288.92 750.74 L289.42 750.74 L289.93 750.74 L290.44 750.73 L290.94 750.72"/>
<path d="M295.10 750.46 L295.63 750.41 L296.16 750.36 L296.70 750.29 L297.24 750.23 L297.78 750.16 L298.33 750.08 L298.88 750.00 L299.43 749.91 L299.99 749.81"/>
<path d="M304.59 748.86 L305.19 748.71 L305.81 748.55 L306.42 748.38 L307.05 748.20 L307.69 748.02 L308.33 747.83 L308.98 747.63 L309.63 747.42 L310.29 747.21 L310.95 746.99 L311.62 746.77 L312.29 746.54 L312.97 746.31 L313.65 746.07 L314.33 745.82 L315.01 745.58 L315.69 745.33 L316.38 745.07 L317.06 744.81 L317.75 744.55 L318.43 744.29 L319.11 744.02 L319.79 743.76 L320.47 743.49 L321.14 743.22 L321.82 742.95 L322.48 742.68 L323.15 742.40 L323.80 742.13 L324.46 741.86 L325.10 741.59 L325.74 741.32 L326.38 741.06 L327.00 740.79 L327.62 740.53 L328.23 740.27 L328.83 740.01 L329.42 739.75 L330.00 739.50 L330.58 739.25 L331.16 738.99 L331.74 738.72 L332.33 738.44 L332.92 738.16 L333.52 737.88 L334.11 737.59 L334.70 737.30 L335.30 737.00 L335.89 736.70 L336.48 736.40 L337.07 736.09 L337.66 735.79 L338.24 735.48 L338.82 735.17 L339.39 734.87 L339.96 734.56 L340.52 734.26 L341.08 733.96 L341.62 733.66 L342.16 733.36 L342.70 733.07 L343.22 732.78 L343.73 732.49 L344.23 732.21 L344.72 731.94 L345.19 731.67 L345.66 731.41 L346.11 731.16 L346.55 730.91 L346.97 730.67 L347.38 730.44 L347.77 730.22 L348.14 730.02 L348.50 729.82 L348.84 729.63 L349.16 729.45 L349.46 729.29 L349.74 729.14 L350.00 729.00 L354.41 726.22 L358.82 723.44 L363.23 720.67 L367.64 717.91 L372.04 715.15 L376.44 712.40 L380.85 709.66 L385.25 706.92 L389.64 704.19 L394.04 701.46 L398.44 698.75 L402.83 696.03 L407.22 693.33 L411.61 690.63 L416.00 687.93 L420.38 685.24 L424.77 682.56 L429.15 679.89 L433.53 677.22 L437.91 674.56 L442.29 671.90 L446.67 669.25 L451.04 666.61 L455.41 663.97 L459.79 661.34 L464.15 658.71 L468.52 656.09 L472.89 653.48 L477.25 650.88 L481.62 648.28 L485.98 645.68 L490.34 643.10 L494.69 640.52 L499.05 637.94 L503.40 635.37 L507.76 632.81 L512.11 630.25 L516.46 627.71 L520.80 625.16 L525.15 622.62 L529.49 620.09"/>
<path d="M538.18 615.05 L542.52 612.54"/>
<path d="M551.19 607.54 L555.52 605.04 L559.86 602.56 L564.19 600.08 L568.52 597.60 L572.84 595.13 L577.17 592.67 L581.49 590.22 L585.81 587.77 L590.14 585.33 L594.45 582.89 L598.77 580.46 L603.09 578.04 L607.40 575.62 L611.71 573.21 L616.02 570.80 L620.33 568.40 L624.64 566.01 L628.94 563.62 L633.25 561.24 L637.55 558.87 L641.85 556.50 L646.15 554.14 L650.45 551.79 L654.74 549.44 L659.03 547.10 L663.33 544.76 L667.62 542.43 L671.90 540.11 L676.19 537.79 L680.48 535.48 L684.76 533.18 L689.04 530.88 L693.32 528.59 L697.60 526.30"/>
<path d="M240.90 605.30 L240.80 605.60 L240.68 605.92 L240.55 606.27 L240.42 606.65 L240.27 607.05 L240.12 607.47 L239.96 607.91 L239.79 608.38 L239.61 608.86 L239.42 609.36 L239.23 609.89 L239.03 610.42 L238.83 610.98 L238.62 611.54 L238.41 612.12 L238.19 612.72 L237.97 613.32 L237.74 613.94 L237.52 614.56 L237.29 615.19 L237.06 615.83 L236.82 616.48 L236.59 617.13 L236.36 617.79 L236.13 618.45 L235.89 619.11 L235.66 619.77 L235.44 620.43 L235.21 621.09 L234.98 621.75 L234.76 622.41 L234.55 623.06 L234.33 623.71 L234.13 624.35 L233.92 624.98 L233.72 625.60 L233.53 626.22 L233.35 626.82 L233.17 627.42 L233.00 628.00 L232.83 628.58 L232.67 629.15 L232.50 629.74 L232.34 630.32 L232.18 630.90 L232.01 631.49 L231.85 632.08 L231.69 632.67 L231.53 633.26 L231.37 633.85 L231.21 634.44 L231.06 635.03 L230.90 635.63 L230.75 636.22 L230.60 636.82 L230.45 637.41 L230.30 638.01 L230.15 638.60 L230.01 639.19 L229.87 639.79 L229.73 640.38 L229.59 640.97 L229.46 641.56 L229.32 642.15 L229.19 642.74 L229.07 643.33 L228.94 643.91 L228.82 644.50 L228.70 645.08 L228.58 645.66 L228.47 646.23 L228.36 646.81 L228.25 647.38 L228.15 647.95 L228.05 648.52 L227.95 649.08 L227.86 649.64 L227.77 650.20 L227.68 650.75 L227.60 651.30 L227.52 651.85 L227.45 652.39 L227.37 652.93 L227.31 653.47 L227.24 654.01 L227.18 654.55 L227.12 655.08 L227.06 655.62 L227.01 656.15 L226.96 656.68 L226.91 657.20 L226.87 657.73 L226.83 658.25 L226.79 658.77 L226.75 659.29 L226.72 659.81 L226.69 660.33 L226.66 660.84 L226.64 661.36 L226.61 661.87 L226.59 662.38 L226.57 662.89 L226.56 663.39 L226.54 663.90 L226.53 664.40 L226.52 664.91 L226.52 665.41 L226.51 665.91 L226.51 666.41 L226.51 666.90 L226.51 667.40 L226.51 667.89 L226.52 668.38 L226.52 668.88 L226.53 669.37 L226.54 669.86 L226.55 670.34 L226.57 670.83 L226.58 671.32 L226.60 671.80 L226.62 672.28 L226.64 672.76 L226.66 673.24 L226.69 673.72 L226.71 674.20 L226.74 674.67 L226.77 675.14 L226.81 675.61 L226.84 676.08 L226.88 676.55 L226.92 677.02 L226.96 677.48 L227.01 677.94 L227.05 678.40 L227.10 678.86 L227.15 679.32 L227.20 679.78 L227.26 680.24 L227.32 680.69 L227.38 681.14 L227.44 681.60 L227.50 682.05 L227.56 682.50 L227.63 682.95 L227.70 683.39 L227.77 683.84 L227.85 684.29 L227.92 684.73 L228.00 685.17 L228.08 685.62 L228.16 686.06 L228.25 686.50 L228.33 686.94 L228.42 687.38 L228.51 687.82 L228.61 688.26 L228.70 688.69 L228.80 689.13 L228.90 689.56 L229.00 690.00 L229.10 690.43 L229.21 690.87 L229.32 691.30 L229.44 691.73 L229.55 692.16 L229.67 692.59 L229.79 693.02 L229.92 693.44 L230.05 693.87 L230.18 694.29 L230.31 694.71 L230.45 695.14 L230.58 695.56 L230.72 695.98 L230.86 696.39 L231.01 696.81 L231.15 697.23 L231.30 697.65 L231.45 698.06 L231.60 698.48 L231.75 698.89 L231.91 699.30 L232.06 699.71 L232.22 700.12 L232.37 700.53 L232.53 700.94 L232.69 701.35 L232.85 701.76 L233.01 702.17 L233.17 702.57 L233.33 702.98 L233.50 703.38 L233.66 703.79 L233.82 704.19 L233.98 704.59 L234.15 705.00 L234.31 705.40 L234.47 705.80 L234.64 706.20 L234.80 706.60 L234.96 707.00 L235.13 707.40 L235.29 707.79 L235.46 708.19 L235.63 708.59 L235.80 708.98 L235.97 709.37 L236.14 709.76 L236.31 710.15 L236.48 710.54 L236.66 710.93 L236.83 711.32 L237.01 711.71 L237.18 712.09 L237.36 712.48 L237.54 712.87 L237.72 713.25 L237.90 713.63 L238.08 714.02 L238.26 714.40 L238.44 714.78 L238.63 715.16 L238.81 715.55 L239.00 715.93 L239.18 716.31 L239.37 716.69 L239.55 717.07 L239.74 717.45 L239.92 717.83 L240.11 718.21 L240.30 718.59 L240.49 718.96 L240.67 719.34 L240.86 719.72 L241.05 720.10 L241.24 720.48 L241.43 720.86 L241.62 721.24 L241.81 721.62 L242.00 722.00 L242.19 722.38 L242.39 722.78 L242.60 723.18 L242.80 723.58 L243.02 724.00 L243.23 724.42 L243.45 724.84 L243.68 725.27 L243.90 725.70 L244.13 726.13 L244.36 726.57 L244.59 727.00 L244.83 727.44 L245.06 727.88 L245.29 728.31 L245.53 728.75 L245.76 729.18 L245.99 729.61 L246.22 730.04 L246.45 730.46 L246.68 730.88 L246.90 731.29 L247.12 731.70 L247.34 732.10 L247.55 732.49 L247.76 732.87 L247.96 733.25 L248.16 733.62 L248.36 733.97 L248.54 734.31 L248.72 734.65 L248.90 734.97 L249.07 735.27 L249.23 735.57 L249.38 735.85 L249.52 736.11 L249.65 736.36 L249.78 736.59 L249.89 736.80 L250.00 737.00"/>
<path d="M250.3 597.3 Q251.6 586.1 259.8 578.4 A7.8 7.8 0 0 0 245.8 571.4 Q244.5 582.6 236.3 590.3 A7.8 7.8 0 0 0 250.3 597.3 Z" fill="#fff"/>
<path d="M259.3 579.2 Q261.9 568.3 270.7 561.7 A7.8 7.8 0 0 0 257.7 553.1 Q255.1 564.0 246.3 570.6 A7.8 7.8 0 0 0 259.3 579.2 Z" fill="#fff"/>
<path d="M270.5 562.1 Q274.0 550.9 283.7 544.4 A7.8 7.8 0 0 0 271.1 535.0 Q267.6 546.2 257.9 552.7 A7.8 7.8 0 0 0 270.5 562.1 Z" fill="#fff"/>
<path d="M282.9 545.2 Q287.6 535.1 297.6 530.4 A7.8 7.8 0 0 0 286.6 519.4 Q281.9 529.5 271.9 534.2 A7.8 7.8 0 0 0 282.9 545.2 Z" fill="#fff"/>
<path d="M297.3 530.7 Q302.4 521.1 312.6 517.1 A7.8 7.8 0 0 0 302.2 505.5 Q297.1 515.1 286.9 519.1 A7.8 7.8 0 0 0 297.3 530.7 Z" fill="#fff"/>
<path d="M311.8 517.7 Q317.2 509.4 326.8 507.4 A7.8 7.8 0 0 0 318.0 494.6 Q312.6 502.9 303.0 504.9 A7.8 7.8 0 0 0 311.8 517.7 Z" fill="#fff"/>
<path d="M326.2 507.8 Q332.5 500.0 342.5 498.8 A7.8 7.8 0 0 0 334.9 485.2 Q328.6 493.0 318.6 494.2 A7.8 7.8 0 0 0 326.2 507.8 Z" fill="#fff"/>
<path d="M341.2 499.4 Q347.4 493.3 356.0 494.4 A7.8 7.8 0 0 0 351.0 479.6 Q344.8 485.7 336.2 484.6 A7.8 7.8 0 0 0 341.2 499.4 Z" fill="#fff"/>
<path d="M355.7 494.5 Q362.6 488.5 371.6 489.9 A7.8 7.8 0 0 0 367.2 474.9 Q360.3 480.9 351.3 479.5 A7.8 7.8 0 0 0 355.7 494.5 Z" fill="#fff"/>
<path d="M253.3 598.5 Q254.6 587.3 262.8 579.6 A7.8 7.8 0 0 0 248.8 572.6 Q247.5 583.7 239.3 591.5 A7.8 7.8 0 0 0 253.3 598.5 Z" fill="#fff"/>
<path d="M262.3 580.3 Q264.9 569.5 273.7 562.8 A7.8 7.8 0 0 0 260.7 554.3 Q258.1 565.1 249.3 571.8 A7.8 7.8 0 0 0 262.3 580.3 Z" fill="#fff"/>
<path d="M273.5 563.2 Q277.0 552.1 286.7 545.5 A7.8 7.8 0 0 0 274.1 536.2 Q270.6 547.3 260.9 553.9 A7.8 7.8 0 0 0 273.5 563.2 Z" fill="#fff"/>
<path d="M285.9 546.4 Q290.6 536.3 300.6 531.6 A7.8 7.8 0 0 0 289.6 520.6 Q284.9 530.6 274.9 535.4 A7.8 7.8 0 0 0 285.9 546.4 Z" fill="#fff"/>
<path d="M300.3 531.9 Q305.4 522.3 315.6 518.3 A7.8 7.8 0 0 0 305.2 506.6 Q300.1 516.3 289.9 520.2 A7.8 7.8 0 0 0 300.3 531.9 Z" fill="#fff"/>
<path d="M314.8 518.9 Q320.2 510.6 329.8 508.6 A7.8 7.8 0 0 0 321.0 495.7 Q315.6 504.0 306.0 506.0 A7.8 7.8 0 0 0 314.8 518.9 Z" fill="#fff"/>
<path d="M329.2 509.0 Q335.5 501.2 345.5 500.0 A7.8 7.8 0 0 0 337.9 486.3 Q331.6 494.2 321.6 495.3 A7.8 7.8 0 0 0 329.2 509.0 Z" fill="#fff"/>
<path d="M344.2 500.6 Q350.4 494.5 359.0 495.6 A7.8 7.8 0 0 0 354.0 480.8 Q347.8 486.9 339.2 485.8 A7.8 7.8 0 0 0 344.2 500.6 Z" fill="#fff"/>
<path d="M358.7 495.7 Q365.6 489.7 374.6 491.1 A7.8 7.8 0 0 0 370.2 476.1 Q363.3 482.0 354.3 480.7 A7.8 7.8 0 0 0 358.7 495.7 Z" fill="#fff"/>
<path d="M256.3 599.6 Q257.6 588.5 265.8 580.7 A7.8 7.8 0 0 0 251.8 573.7 Q250.5 584.9 242.3 592.6 A7.8 7.8 0 0 0 256.3 599.6 Z" fill="#fff"/>
<path d="M265.3 581.5 Q267.9 570.7 276.7 564.0 A7.8 7.8 0 0 0 263.7 555.5 Q261.1 566.3 252.3 573.0 A7.8 7.8 0 0 0 265.3 581.5 Z" fill="#fff"/>
<path d="M276.5 564.4 Q280.0 553.3 289.7 546.7 A7.8 7.8 0 0 0 277.1 537.4 Q273.6 548.5 263.9 555.1 A7.8 7.8 0 0 0 276.5 564.4 Z" fill="#fff"/>
<path d="M288.9 547.5 Q293.6 537.5 303.6 532.7 A7.8 7.8 0 0 0 292.6 521.7 Q287.9 531.8 277.9 536.5 A7.8 7.8 0 0 0 288.9 547.5 Z" fill="#fff"/>
<path d="M303.3 533.1 Q308.4 523.4 318.6 519.5 A7.8 7.8 0 0 0 308.2 507.8 Q303.1 517.4 292.9 521.4 A7.8 7.8 0 0 0 303.3 533.1 Z" fill="#fff"/>
<path d="M317.8 520.1 Q323.2 511.8 332.8 509.8 A7.8 7.8 0 0 0 324.0 496.9 Q318.6 505.2 309.0 507.2 A7.8 7.8 0 0 0 317.8 520.1 Z" fill="#fff"/>
<path d="M332.2 510.2 Q338.5 502.3 348.5 501.2 A7.8 7.8 0 0 0 340.9 487.5 Q334.6 495.3 324.6 496.5 A7.8 7.8 0 0 0 332.2 510.2 Z" fill="#fff"/>
<path d="M347.2 501.7 Q353.4 495.6 362.0 496.7 A7.8 7.8 0 0 0 357.0 481.9 Q350.8 488.0 342.2 486.9 A7.8 7.8 0 0 0 347.2 501.7 Z" fill="#fff"/>
<path d="M361.7 496.8 Q368.6 490.9 377.6 492.2 A7.8 7.8 0 0 0 373.2 477.2 Q366.3 483.2 357.3 481.8 A7.8 7.8 0 0 0 361.7 496.8 Z" fill="#fff"/>
<path d="M266.8 582.0 Q270.3 571.9 278.2 564.5 A7.6 7.6 0 0 0 265.5 556.2 Q262.0 566.4 254.1 573.7 A7.6 7.6 0 0 0 266.8 582.0 Z" fill="#fff"/>
<path d="M290.4 548.0 Q295.9 538.8 305.1 533.2 A7.6 7.6 0 0 0 294.4 522.5 Q288.9 531.8 279.7 537.3 A7.6 7.6 0 0 0 290.4 548.0 Z" fill="#fff"/>
<path d="M319.4 520.5 Q325.4 513.2 334.4 510.2 A7.6 7.6 0 0 0 325.7 497.7 Q319.7 505.0 310.7 508.0 A7.6 7.6 0 0 0 319.4 520.5 Z" fill="#fff"/>
<path d="M348.8 502.2 Q355.4 497.2 363.6 497.2 A7.6 7.6 0 0 0 358.7 482.8 Q352.1 487.7 343.9 487.8 A7.6 7.6 0 0 0 348.8 502.2 Z" fill="#fff"/>
<path d="M259.3 600.8 Q262.2 590.5 268.8 581.9 A7.8 7.8 0 0 0 254.8 574.9 Q251.9 585.2 245.3 593.8 A7.8 7.8 0 0 0 259.3 600.8 Z" fill="#fff"/>
<path d="M279.5 565.6 Q284.4 555.5 292.7 547.9 A7.8 7.8 0 0 0 280.1 538.5 Q275.2 548.6 266.9 556.2 A7.8 7.8 0 0 0 279.5 565.6 Z" fill="#fff"/>
<path d="M306.3 534.2 Q312.6 525.9 321.6 520.6 A7.8 7.8 0 0 0 311.2 509.0 Q304.9 517.3 295.9 522.6 A7.8 7.8 0 0 0 306.3 534.2 Z" fill="#fff"/>
<path d="M335.2 511.3 Q342.4 505.1 351.5 502.3 A7.8 7.8 0 0 0 343.9 488.7 Q336.7 494.9 327.6 497.7 A7.8 7.8 0 0 0 335.2 511.3 Z" fill="#fff"/>
<path d="M364.7 498.0 Q372.1 493.8 380.6 493.4 A7.8 7.8 0 0 0 376.2 478.4 Q368.8 482.6 360.3 483.0 A7.8 7.8 0 0 0 364.7 498.0 Z" fill="#fff"/>
<circle cx="252.3" cy="597.3" r="4.3" fill="#fff" stroke-width="1.3"/>
<circle cx="261.8" cy="578.4" r="4.3" fill="#fff" stroke-width="1.3"/>
<circle cx="273.2" cy="560.9" r="4.3" fill="#fff" stroke-width="1.3"/>
<circle cx="286.4" cy="543.2" r="4.3" fill="#fff" stroke-width="1.3"/>
<circle cx="301.1" cy="528.4" r="4.3" fill="#fff" stroke-width="1.3"/>
<circle cx="316.4" cy="514.8" r="4.3" fill="#fff" stroke-width="1.3"/>
<circle cx="331.4" cy="504.5" r="4.3" fill="#fff" stroke-width="1.3"/>
<circle cx="347.7" cy="495.5" r="4.3" fill="#fff" stroke-width="1.3"/>
<circle cx="362.5" cy="490.5" r="4.3" fill="#fff" stroke-width="1.3"/>
<circle cx="378.4" cy="485.9" r="4.3" fill="#fff" stroke-width="1.3"/>
<path d="M700.5 412.0 Q707.0 404.5 716.9 403.8 A7.8 7.8 0 0 0 709.9 389.8 Q703.4 397.3 693.5 398.0 A7.8 7.8 0 0 0 700.5 412.0 Z" fill="#fff"/>
<path d="M715.0 404.4 Q720.6 399.4 727.7 401.7 A7.8 7.8 0 0 0 724.5 386.5 Q718.9 391.5 711.8 389.2 A7.8 7.8 0 0 0 715.0 404.4 Z" fill="#fff"/>
<path d="M724.0 401.6 Q731.4 399.7 736.7 405.2 A7.8 7.8 0 0 0 740.9 390.2 Q733.5 392.1 728.2 386.6 A7.8 7.8 0 0 0 724.0 401.6 Z" fill="#fff"/>
<path d="M733.8 403.7 Q740.6 404.4 742.5 411.0 A7.8 7.8 0 0 0 752.5 399.0 Q745.7 398.3 743.8 391.7 A7.8 7.8 0 0 0 733.8 403.7 Z" fill="#fff"/>
<path d="M740.3 407.9 Q746.5 413.3 745.8 421.4 A7.8 7.8 0 0 0 760.2 415.6 Q754.0 410.2 754.7 402.1 A7.8 7.8 0 0 0 740.3 407.9 Z" fill="#fff"/>
<path d="M745.2 418.5 Q749.0 425.9 745.2 433.2 A7.8 7.8 0 0 0 760.8 433.2 Q757.0 425.9 760.8 418.5 A7.8 7.8 0 0 0 745.2 418.5 Z" fill="#fff"/>
<path d="M745.4 431.3 Q746.7 441.7 740.6 450.3 A7.8 7.8 0 0 0 755.8 454.1 Q754.5 443.7 760.6 435.1 A7.8 7.8 0 0 0 745.4 431.3 Z" fill="#fff"/>
<path d="M741.3 448.6 Q740.3 458.9 732.6 465.6 A7.8 7.8 0 0 0 746.4 472.8 Q747.4 462.5 755.1 455.8 A7.8 7.8 0 0 0 741.3 448.6 Z" fill="#fff"/>
<path d="M733.3 464.5 Q729.6 475.6 719.9 482.1 A7.8 7.8 0 0 0 732.3 491.5 Q736.0 480.4 745.7 473.9 A7.8 7.8 0 0 0 733.3 464.5 Z" fill="#fff"/>
<path d="M721.0 480.9 Q717.1 489.2 708.3 491.8 A7.8 7.8 0 0 0 718.5 503.6 Q722.4 495.3 731.2 492.7 A7.8 7.8 0 0 0 721.0 480.9 Z" fill="#fff"/>
<path d="M709.6 490.9 Q703.3 498.8 693.2 500.0 A7.8 7.8 0 0 0 700.8 513.6 Q707.1 505.7 717.2 504.5 A7.8 7.8 0 0 0 709.6 490.9 Z" fill="#fff"/>
<path d="M703.7 413.2 Q710.2 405.7 720.1 405.0 A7.8 7.8 0 0 0 713.2 391.1 Q706.7 398.6 696.8 399.3 A7.8 7.8 0 0 0 703.7 413.2 Z" fill="#fff"/>
<path d="M718.3 405.7 Q723.8 400.6 731.0 403.0 A7.8 7.8 0 0 0 727.7 387.7 Q722.2 392.8 715.0 390.4 A7.8 7.8 0 0 0 718.3 405.7 Z" fill="#fff"/>
<path d="M727.2 402.9 Q734.6 401.0 739.9 406.5 A7.8 7.8 0 0 0 744.2 391.4 Q736.8 393.3 731.5 387.8 A7.8 7.8 0 0 0 727.2 402.9 Z" fill="#fff"/>
<path d="M737.0 404.9 Q743.8 405.7 745.7 412.2 A7.8 7.8 0 0 0 755.8 400.3 Q749.0 399.5 747.1 393.0 A7.8 7.8 0 0 0 737.0 404.9 Z" fill="#fff"/>
<path d="M743.5 409.2 Q749.8 414.5 749.0 422.7 A7.8 7.8 0 0 0 763.5 416.8 Q757.2 411.5 758.0 403.3 A7.8 7.8 0 0 0 743.5 409.2 Z" fill="#fff"/>
<path d="M748.5 419.8 Q752.2 427.1 748.5 434.4 A7.8 7.8 0 0 0 764.0 434.4 Q760.2 427.1 764.0 419.8 A7.8 7.8 0 0 0 748.5 419.8 Z" fill="#fff"/>
<path d="M748.7 432.5 Q750.0 443.0 743.9 451.5 A7.8 7.8 0 0 0 759.0 455.4 Q757.7 444.9 763.8 436.4 A7.8 7.8 0 0 0 748.7 432.5 Z" fill="#fff"/>
<path d="M744.5 449.9 Q743.5 460.1 735.8 466.9 A7.8 7.8 0 0 0 749.7 474.0 Q750.7 463.8 758.4 457.0 A7.8 7.8 0 0 0 744.5 449.9 Z" fill="#fff"/>
<path d="M736.5 465.7 Q732.9 476.8 723.1 483.3 A7.8 7.8 0 0 0 735.6 492.8 Q739.2 481.7 749.0 475.2 A7.8 7.8 0 0 0 736.5 465.7 Z" fill="#fff"/>
<path d="M724.3 482.1 Q720.4 490.5 711.6 493.0 A7.8 7.8 0 0 0 721.7 504.9 Q725.6 496.5 734.4 494.0 A7.8 7.8 0 0 0 724.3 482.1 Z" fill="#fff"/>
<path d="M712.9 492.1 Q706.5 500.0 696.5 501.2 A7.8 7.8 0 0 0 704.0 514.9 Q710.4 507.0 720.4 505.8 A7.8 7.8 0 0 0 712.9 492.1 Z" fill="#fff"/>
<path d="M707.0 414.5 Q713.5 407.0 723.4 406.3 A7.8 7.8 0 0 0 716.4 392.3 Q709.9 399.8 700.0 400.5 A7.8 7.8 0 0 0 707.0 414.5 Z" fill="#fff"/>
<path d="M721.5 406.9 Q727.1 401.9 734.2 404.2 A7.8 7.8 0 0 0 731.0 389.0 Q725.4 394.0 718.3 391.7 A7.8 7.8 0 0 0 721.5 406.9 Z" fill="#fff"/>
<path d="M730.5 404.1 Q737.9 402.2 743.2 407.7 A7.8 7.8 0 0 0 747.4 392.7 Q740.0 394.6 734.7 389.1 A7.8 7.8 0 0 0 730.5 404.1 Z" fill="#fff"/>
<path d="M740.3 406.2 Q747.1 406.9 749.0 413.5 A7.8 7.8 0 0 0 759.0 401.5 Q752.2 400.8 750.3 394.2 A7.8 7.8 0 0 0 740.3 406.2 Z" fill="#fff"/>
<path d="M746.8 410.4 Q753.0 415.8 752.3 423.9 A7.8 7.8 0 0 0 766.7 418.1 Q760.5 412.7 761.2 404.6 A7.8 7.8 0 0 0 746.8 410.4 Z" fill="#fff"/>
<path d="M751.7 421.0 Q755.5 428.4 751.7 435.7 A7.8 7.8 0 0 0 767.3 435.7 Q763.5 428.4 767.3 421.0 A7.8 7.8 0 0 0 751.7 421.0 Z" fill="#fff"/>
<path d="M751.9 433.8 Q753.2 444.2 747.1 452.8 A7.8 7.8 0 0 0 762.3 456.6 Q761.0 446.2 767.1 437.6 A7.8 7.8 0 0 0 751.9 433.8 Z" fill="#fff"/>
<path d="M747.8 451.1 Q746.8 461.4 739.1 468.1 A7.8 7.8 0 0 0 752.9 475.3 Q753.9 465.0 761.6 458.3 A7.8 7.8 0 0 0 747.8 451.1 Z" fill="#fff"/>
<path d="M739.8 467.0 Q736.1 478.1 726.4 484.6 A7.8 7.8 0 0 0 738.8 494.0 Q742.5 482.9 752.2 476.4 A7.8 7.8 0 0 0 739.8 467.0 Z" fill="#fff"/>
<path d="M727.5 483.4 Q723.6 491.7 714.8 494.3 A7.8 7.8 0 0 0 725.0 506.1 Q728.9 497.8 737.7 495.2 A7.8 7.8 0 0 0 727.5 483.4 Z" fill="#fff"/>
<path d="M716.1 493.4 Q709.8 501.3 699.7 502.5 A7.8 7.8 0 0 0 707.3 516.1 Q713.6 508.2 723.7 507.0 A7.8 7.8 0 0 0 716.1 493.4 Z" fill="#fff"/>
<path d="M710.2 415.7 Q716.7 408.2 726.6 407.5 A7.8 7.8 0 0 0 719.7 393.6 Q713.2 401.1 703.3 401.8 A7.8 7.8 0 0 0 710.2 415.7 Z" fill="#fff"/>
<path d="M724.8 408.2 Q730.3 403.1 737.5 405.5 A7.8 7.8 0 0 0 734.2 390.2 Q728.7 395.3 721.5 392.9 A7.8 7.8 0 0 0 724.8 408.2 Z" fill="#fff"/>
<path d="M733.7 405.4 Q741.1 403.5 746.4 409.0 A7.8 7.8 0 0 0 750.7 393.9 Q743.3 395.8 738.0 390.3 A7.8 7.8 0 0 0 733.7 405.4 Z" fill="#fff"/>
<path d="M743.5 407.4 Q750.3 408.2 752.2 414.7 A7.8 7.8 0 0 0 762.3 402.8 Q755.5 402.0 753.6 395.5 A7.8 7.8 0 0 0 743.5 407.4 Z" fill="#fff"/>
<path d="M750.0 411.7 Q756.3 417.0 755.5 425.2 A7.8 7.8 0 0 0 770.0 419.3 Q763.7 414.0 764.5 405.8 A7.8 7.8 0 0 0 750.0 411.7 Z" fill="#fff"/>
<path d="M755.0 422.2 Q758.8 429.6 755.0 436.9 A7.8 7.8 0 0 0 770.5 436.9 Q766.8 429.6 770.5 422.2 A7.8 7.8 0 0 0 755.0 422.2 Z" fill="#fff"/>
<path d="M755.2 435.0 Q756.5 445.5 750.4 454.0 A7.8 7.8 0 0 0 765.5 457.9 Q764.2 447.4 770.3 438.9 A7.8 7.8 0 0 0 755.2 435.0 Z" fill="#fff"/>
<path d="M751.0 452.4 Q750.0 462.6 742.3 469.4 A7.8 7.8 0 0 0 756.2 476.5 Q757.2 466.3 764.9 459.5 A7.8 7.8 0 0 0 751.0 452.4 Z" fill="#fff"/>
<path d="M743.0 468.2 Q739.4 479.3 729.6 485.8 A7.8 7.8 0 0 0 742.1 495.3 Q745.7 484.2 755.5 477.7 A7.8 7.8 0 0 0 743.0 468.2 Z" fill="#fff"/>
<path d="M730.8 484.6 Q726.9 493.0 718.1 495.5 A7.8 7.8 0 0 0 728.2 507.4 Q732.1 499.0 740.9 496.5 A7.8 7.8 0 0 0 730.8 484.6 Z" fill="#fff"/>
<path d="M719.4 494.6 Q713.0 502.5 703.0 503.7 A7.8 7.8 0 0 0 710.5 517.4 Q716.9 509.5 726.9 508.3 A7.8 7.8 0 0 0 719.4 494.6 Z" fill="#fff"/>
<path d="M726.0 408.5 Q731.8 404.6 738.7 405.8 A7.6 7.6 0 0 0 735.6 390.9 Q729.8 394.8 722.9 393.6 A7.6 7.6 0 0 0 726.0 408.5 Z" fill="#fff"/>
<path d="M745.0 407.8 Q751.0 409.4 753.7 415.1 A7.6 7.6 0 0 0 763.4 403.4 Q757.4 401.8 754.7 396.1 A7.6 7.6 0 0 0 745.0 407.8 Z" fill="#fff"/>
<path d="M756.4 422.8 Q759.0 430.1 756.4 437.4 A7.6 7.6 0 0 0 771.6 437.4 Q769.0 430.1 771.6 422.8 A7.6 7.6 0 0 0 756.4 422.8 Z" fill="#fff"/>
<path d="M752.5 453.0 Q750.4 462.7 743.8 470.0 A7.6 7.6 0 0 0 757.3 476.9 Q759.4 467.2 766.0 459.9 A7.6 7.6 0 0 0 752.5 453.0 Z" fill="#fff"/>
<path d="M732.2 485.3 Q727.5 492.7 719.5 496.2 A7.6 7.6 0 0 0 729.4 507.7 Q734.1 500.3 742.1 496.8 A7.6 7.6 0 0 0 732.2 485.3 Z" fill="#fff"/>
<path d="M713.5 417.0 Q720.8 411.1 729.9 408.8 A7.8 7.8 0 0 0 722.9 394.8 Q715.6 400.7 706.5 403.0 A7.8 7.8 0 0 0 713.5 417.0 Z" fill="#fff"/>
<path d="M737.0 406.6 Q743.9 406.5 749.7 410.2 A7.8 7.8 0 0 0 753.9 395.2 Q747.0 395.3 741.2 391.6 A7.8 7.8 0 0 0 737.0 406.6 Z" fill="#fff"/>
<path d="M753.3 412.9 Q757.9 418.9 758.8 426.4 A7.8 7.8 0 0 0 773.2 420.6 Q768.6 414.6 767.7 407.1 A7.8 7.8 0 0 0 753.3 412.9 Z" fill="#fff"/>
<path d="M758.4 436.3 Q758.0 446.3 753.6 455.3 A7.8 7.8 0 0 0 768.8 459.1 Q769.2 449.1 773.6 440.1 A7.8 7.8 0 0 0 758.4 436.3 Z" fill="#fff"/>
<path d="M746.3 469.5 Q741.2 479.5 732.9 487.1 A7.8 7.8 0 0 0 745.3 496.5 Q750.4 486.5 758.7 478.9 A7.8 7.8 0 0 0 746.3 469.5 Z" fill="#fff"/>
<path d="M722.6 495.9 Q715.4 502.2 706.2 505.0 A7.8 7.8 0 0 0 713.8 518.6 Q721.0 512.3 730.2 509.5 A7.8 7.8 0 0 0 722.6 495.9 Z" fill="#fff"/>
<circle cx="710" cy="410" r="4.3" fill="#fff" stroke-width="1.3"/>
<circle cx="726.4" cy="401.8" r="4.3" fill="#fff" stroke-width="1.3"/>
<circle cx="739.1" cy="399.1" r="4.3" fill="#fff" stroke-width="1.3"/>
<circle cx="751.8" cy="402.7" r="4.3" fill="#fff" stroke-width="1.3"/>
<circle cx="760.5" cy="410" r="4.3" fill="#fff" stroke-width="1.3"/>
<circle cx="766" cy="423.5" r="4.3" fill="#fff" stroke-width="1.3"/>
<circle cx="766" cy="438.2" r="4.3" fill="#fff" stroke-width="1.3"/>
<circle cx="761.2" cy="457.2" r="4.3" fill="#fff" stroke-width="1.3"/>
<circle cx="752.5" cy="474.2" r="4.3" fill="#fff" stroke-width="1.3"/>
<circle cx="739.1" cy="491.8" r="4.3" fill="#fff" stroke-width="1.3"/>
<circle cx="726.4" cy="502.7" r="4.3" fill="#fff" stroke-width="1.3"/>
<circle cx="710" cy="511.8" r="4.3" fill="#fff" stroke-width="1.3"/>
<path d="M303 482.5 L303 502" />
<text x="298.5" y="480" font-size="14" >1</text>
<path d="M229.9 831.6 L240.4 816 L241.9 818.1 L262.6 807.6 L264.4 808.2 L264.1 821.4 L242.2 833.4 L241.6 837.3 Z" fill="#000"/>
<path d="M231.5 830.5 L240.2 817.5 M243 818.8 L262.8 809" stroke="#fff" stroke-width="0.6"/>
<text x="0" y="0" font-size="13.5" fill="#fff" stroke="none" transform="translate(241.8 831.5) skewY(-21.5) scale(0.68 1)" style="fill:#fff">FWD</text>
</g>
</svg>
</body></html>
